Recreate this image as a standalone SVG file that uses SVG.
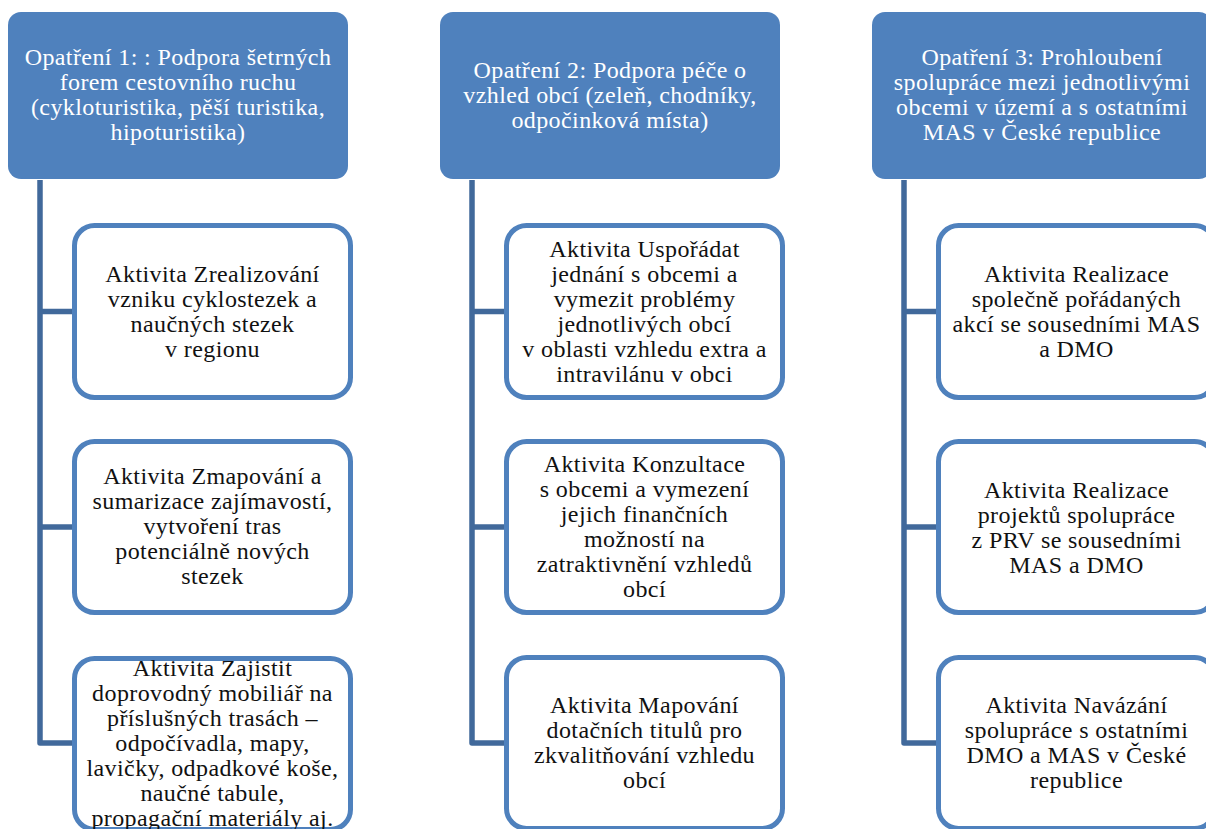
<svg xmlns="http://www.w3.org/2000/svg" width="1206" height="829" viewBox="0 0 1206 829">
<style>
.hdr{fill:#4F81BD;}
.box{fill:#FFFFFF;stroke:#4F81BD;stroke-width:5;}
.con{fill:none;stroke:#41699B;stroke-width:5.5;stroke-linejoin:round;}
text{font-family:"Liberation Serif","DejaVu Serif",serif;font-size:24px;letter-spacing:0.4px;text-anchor:middle;}
.ht{fill:#FFFFFF;}
.bt{fill:#111111;}
</style>
<rect width="1206" height="829" fill="#FFFFFF"/>
<g id="connectors">
<path class="con" d="M40,180 V743 H74 M40,311.5 H74 M40,527 H74"/>
<path class="con" d="M472,180 V743 H506 M472,311.5 H506 M472,527 H506"/>
<path class="con" d="M904,180 V743 H938 M904,311.5 H938 M904,527 H938"/>
</g>
<g id="h1">
<rect class="hdr" x="8" y="12" width="340" height="167" rx="13"/>
<text class="ht" x="178" y="65">Opatření 1: : Podpora šetrných</text>
<text class="ht" x="178" y="90">forem cestovního ruchu</text>
<text class="ht" x="178" y="115">(cykloturistika, pěší turistika,</text>
<text class="ht" x="178" y="140">hipoturistika)</text>
</g>
<g id="h2">
<rect class="hdr" x="440" y="12" width="340" height="167" rx="13"/>
<text class="ht" x="610" y="78">Opatření 2: Podpora péče o</text>
<text class="ht" x="610" y="103">vzhled obcí (zeleň, chodníky,</text>
<text class="ht" x="610" y="128">odpočinková místa)</text>
</g>
<g id="h3">
<rect class="hdr" x="872" y="12" width="340" height="167" rx="13"/>
<text class="ht" x="1042" y="65">Opatření 3: Prohloubení</text>
<text class="ht" x="1042" y="90">spolupráce mezi jednotlivými</text>
<text class="ht" x="1042" y="115">obcemi v území a s ostatními</text>
<text class="ht" x="1042" y="140">MAS v České republice</text>
</g>
<g id="a11">
<rect class="box" x="74.5" y="225.5" width="276" height="172" rx="20"/>
<text class="bt" x="212.5" y="281.5">Aktivita Zrealizování</text>
<text class="bt" x="212.5" y="306.5">vzniku cyklostezek a</text>
<text class="bt" x="212.5" y="331.5">naučných stezek</text>
<text class="bt" x="212.5" y="356.5">v regionu</text>
</g>
<g id="a12">
<rect class="box" x="74.5" y="441.5" width="276" height="171" rx="20"/>
<text class="bt" x="212.5" y="484">Aktivita Zmapování a</text>
<text class="bt" x="212.5" y="509">sumarizace zajímavostí,</text>
<text class="bt" x="212.5" y="534">vytvoření tras</text>
<text class="bt" x="212.5" y="559">potenciálně nových</text>
<text class="bt" x="212.5" y="584">stezek</text>
</g>
<g id="a13">
<rect class="box" x="74.5" y="658.5" width="276" height="171" rx="20"/>
<text class="bt" x="212.5" y="675.5">Aktivita Zajistit</text>
<text class="bt" x="212.5" y="700.5">doprovodný mobiliář na</text>
<text class="bt" x="212.5" y="725.5">příslušných trasách –</text>
<text class="bt" x="212.5" y="750.5">odpočívadla, mapy,</text>
<text class="bt" x="212.5" y="775.5">lavičky, odpadkové koše,</text>
<text class="bt" x="212.5" y="800.5">naučné tabule,</text>
<text class="bt" x="212.5" y="825.5">propagační materiály aj.</text>
</g>
<g id="a21">
<rect class="box" x="506.5" y="225.5" width="276" height="172" rx="20"/>
<text class="bt" x="644.5" y="256.5">Aktivita Uspořádat</text>
<text class="bt" x="644.5" y="281.5">jednání s obcemi a</text>
<text class="bt" x="644.5" y="306.5">vymezit problémy</text>
<text class="bt" x="644.5" y="331.5">jednotlivých obcí</text>
<text class="bt" x="644.5" y="356.5">v oblasti vzhledu extra a</text>
<text class="bt" x="644.5" y="381.5">intravilánu v obci</text>
</g>
<g id="a22">
<rect class="box" x="506.5" y="441.5" width="276" height="171" rx="20"/>
<text class="bt" x="644.5" y="472">Aktivita Konzultace</text>
<text class="bt" x="644.5" y="497">s obcemi a vymezení</text>
<text class="bt" x="644.5" y="522">jejich finančních</text>
<text class="bt" x="644.5" y="547">možností na</text>
<text class="bt" x="644.5" y="572">zatraktivnění vzhledů</text>
<text class="bt" x="644.5" y="597">obcí</text>
</g>
<g id="a23">
<rect class="box" x="506.5" y="657.5" width="276" height="171" rx="20"/>
<text class="bt" x="644.5" y="713">Aktivita Mapování</text>
<text class="bt" x="644.5" y="738">dotačních titulů pro</text>
<text class="bt" x="644.5" y="763">zkvalitňování vzhledu</text>
<text class="bt" x="644.5" y="788">obcí</text>
</g>
<g id="a31">
<rect class="box" x="938.5" y="225.5" width="276" height="172" rx="20"/>
<text class="bt" x="1076.5" y="281.5">Aktivita Realizace</text>
<text class="bt" x="1076.5" y="306.5">společně pořádaných</text>
<text class="bt" x="1076.5" y="331.5">akcí se sousedními MAS</text>
<text class="bt" x="1076.5" y="356.5">a DMO</text>
</g>
<g id="a32">
<rect class="box" x="938.5" y="441.5" width="276" height="171" rx="20"/>
<text class="bt" x="1076.5" y="497.5">Aktivita Realizace</text>
<text class="bt" x="1076.5" y="522.5">projektů spolupráce</text>
<text class="bt" x="1076.5" y="547.5">z PRV se sousedními</text>
<text class="bt" x="1076.5" y="572.5">MAS a DMO</text>
</g>
<g id="a33">
<rect class="box" x="938.5" y="657.5" width="276" height="171" rx="20"/>
<text class="bt" x="1076.5" y="713">Aktivita Navázání</text>
<text class="bt" x="1076.5" y="738">spolupráce s ostatními</text>
<text class="bt" x="1076.5" y="763">DMO a MAS v České</text>
<text class="bt" x="1076.5" y="788">republice</text>
</g>
</svg>
